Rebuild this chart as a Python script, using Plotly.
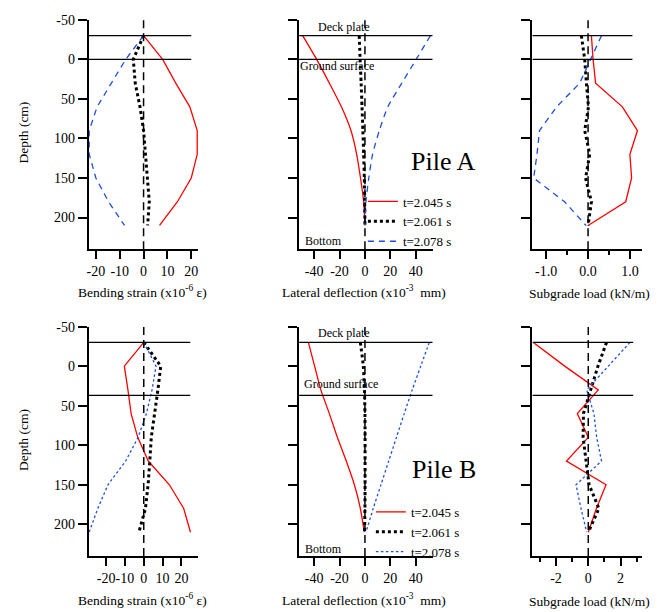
import plotly.graph_objects as go

W, H = 662, 612

# ---------------- data ----------------
depth = [-30, 0, 30, 60, 90, 120, 150, 180, 210]
series_names = ["t=2.045 s", "t=2.061 s", "t=2.078 s"]

# Pile A
strain_A_2045 = [0, 8, 13.5, 19.4, 22.5, 22.5, 20, 14.2, 6.7]
strain_A_2061 = [0, -4.3, -3.5, -1.5, 0, 0.8, 1.8, 2.4, 1.7]
strain_A_2078 = [0, -7.5, -13.5, -19.5, -22.8, -22.8, -20, -14.7, -8]

defl_A_2045 = [-49, -38, -28, -18.5, -11, -6.5, -3.5, -1, 0]
defl_A_2061 = [-4.5, -3.8, -3, -2.3, -1.6, -1, -0.5, -0.2, 0]
defl_A_2078 = [51.5, 40.3, 29, 18, 11.3, 6, 3, 0.8, 0]

load_A_2045 = [0.08, 0.12, 0.18, 0.82, 1.18, 1.0, 1.04, 0.9, 0]
load_A_2061 = [-0.16, -0.08, -0.04, 0.01, -0.08, 0.04, -0.06, 0.08, 0]
load_A_2078 = [0.32, 0.06, -0.2, -0.75, -1.16, -1.22, -1.3, -0.56, -0.05]

# Pile B
strain_B_2045 = [0, -10.3, -8.4, -6.7, -3.2, 2.4, 13.6, 21.2, 24.8]
strain_B_2061 = [0, 9, 7.5, 5.8, 4, 3.2, 2.3, 0.9, -2.6]
strain_B_2078 = [0, 6.5, 4.4, 1.4, -3, -9.6, -19, -24.4, -29]

defl_B_2045 = [-44.5, -39.6, -34.7, -28, -21.7, -14.7, -8.3, -3.6, -0.5]
defl_B_2061 = [-3.6, -1.3, -0.4, 0, 0.1, 0.1, 0.1, 0, -0.3]
defl_B_2078 = [50.6, 43.9, 37.2, 30.9, 24.8, 18.7, 12.6, 6.5, 0.8]

load_B_2045 = [-3.4, -1.46, 0.62, -0.68, 0.0, -1.35, 1.1, 0.5, 0.0]
load_B_2061 = [1.13, 0.6, 0.15, -0.3, -0.32, -0.12, 0.05, 0.66, 0]
load_B_2078 = [2.58, 1.24, -0.1, 0.35, 0.52, 0.82, -0.76, -0.45, -0.1]

deck_depth = -30
ground_depth_A = 0
ground_depth_B = 37

depth_ticks = [-50, 0, 50, 100, 150, 200]
depth_ticktext = ["-50", "0", "50", "100", "150", "200"]

strain_A_ticks = [-20, -10, 0, 10, 20]
strain_A_ticktext = ["-20", "-10", "0", "10", "20"]
strain_B_ticks = [-20, -10, 0, 10, 20]
strain_B_ticktext = ["-20", "-10", "0", "10", "20"]
defl_ticks = [-40, -20, 0, 20, 40]
defl_ticktext = ["-40", "-20", "0", "20", "40"]
load_A_ticks = [-1, 0, 1]
load_A_ticktext = ["-1.0", "0.0", "1.0"]
load_A_minor = [-0.5, 0.5]
load_B_ticks = [-2, 0, 2]
load_B_ticktext = ["-2", "0", "2"]
load_B_minor = [-3, -1, 1, 3]

# ---------------- layout geometry ----------------
col_px = [(87, 197), (298, 432), (532, 642)]
row_px = [(13, 245), (323.3, 555.3)]
y_range = [240, -50]
x_ranges = [[-23, 23], [-51.8, 53.3], [-1.33, 1.29],
            [-29.2, 29], [-51.8, 53.3], [-3.46, 3.33]]
# how far the deck/ground reference lines run to the right (data units)
ref_line_end = [20, 53.3, 1.06, 24.7, 53.3, 2.78]

FONT = "Liberation Serif"
RED = "#ff0000"
BLACK = "#000000"
BLUE = "#1e4fdc"

panels = [
    (strain_A_2045, strain_A_2061, strain_A_2078),
    (defl_A_2045, defl_A_2061, defl_A_2078),
    (load_A_2045, load_A_2061, load_A_2078),
    (strain_B_2045, strain_B_2061, strain_B_2078),
    (defl_B_2045, defl_B_2061, defl_B_2078),
    (load_B_2045, load_B_2061, load_B_2078),
]

fig = go.Figure()


def axname(i, kind):
    return kind if i == 0 else f"{kind}{i + 1}"


for i, (s1, s2, s3) in enumerate(panels):
    r, c = divmod(i, 3)
    xa, ya = axname(i, "x"), axname(i, "y")
    shape = "spline" if c == 1 else "linear"
    blue_dash = "6px,5px" if r == 0 else "2.5px,2.5px"
    show = (c == 1)
    leg = "legend" if r == 0 else "legend2"
    styles = [
        dict(color=RED, width=1.3, dash="solid"),
        dict(color=BLACK, width=3, dash="3px,3px"),
        dict(color=BLUE, width=1.3, dash=blue_dash),
    ]
    for name, vals, st in zip(series_names, (s1, s2, s3), styles):
        fig.add_trace(go.Scatter(
            x=vals, y=depth, mode="lines", name=name,
            line=dict(color=st["color"], width=st["width"], dash=st["dash"],
                      shape=shape, smoothing=0.6),
            xaxis=xa, yaxis=ya, showlegend=show, legend=leg,
        ))

    # zero reference (dashed vertical) line
    fig.add_shape(type="line", xref=xa, yref=f"{ya} domain",
                  x0=0, x1=0, y0=0, y1=1,
                  line=dict(color="black", width=1.5, dash="8px,5px"))
    # deck plate and ground surface lines
    ground = ground_depth_A if r == 0 else ground_depth_B
    for dval in (deck_depth, ground):
        fig.add_shape(type="line", xref=xa, yref=ya,
                      x0=x_ranges[i][0], x1=ref_line_end[i], y0=dval, y1=dval,
                      line=dict(color="black", width=1.3))

x_ticks = [
    (strain_A_ticks, strain_A_ticktext, None),
    (defl_ticks, defl_ticktext, None),
    (load_A_ticks, load_A_ticktext, load_A_minor),
    (strain_B_ticks, strain_B_ticktext, None),
    (defl_ticks, defl_ticktext, None),
    (load_B_ticks, load_B_ticktext, load_B_minor),
]

layout = dict(
    width=W, height=H,
    margin=dict(l=0, r=0, t=0, b=0),
    paper_bgcolor="white", plot_bgcolor="white",
    font=dict(family=FONT, size=14, color="black"),
    legend=dict(x=362 / W, y=1 - 217 / H, xanchor="left", yanchor="middle",
                bgcolor="rgba(0,0,0,0)", font=dict(family=FONT, size=13),
                itemwidth=30, tracegroupgap=0),
    legend2=dict(x=370 / W, y=1 - 531 / H, xanchor="left", yanchor="middle",
                 bgcolor="rgba(0,0,0,0)", font=dict(family=FONT, size=13),
                 itemwidth=30, tracegroupgap=0),
)

for i in range(6):
    r, c = divmod(i, 3)
    xkey = "xaxis" if i == 0 else f"xaxis{i + 1}"
    ykey = "yaxis" if i == 0 else f"yaxis{i + 1}"
    tv, tt, minor = x_ticks[i]
    xa = dict(
        domain=[col_px[c][0] / W, col_px[c][1] / W],
        range=x_ranges[i], anchor=axname(i, "y"),
        showgrid=False, zeroline=False,
        showline=True, linecolor="black", linewidth=2,
        ticks="outside", ticklen=8, tickwidth=1.5, tickcolor="black",
        tickmode="array", tickvals=tv, ticktext=tt, tickangle=0,
        tickfont=dict(family=FONT, size=14),
    )
    if minor:
        xa["minor"] = dict(tickmode="array", tickvals=minor, ticks="outside",
                           ticklen=4, tickwidth=1.5, tickcolor="black",
                           showgrid=False)
    ya = dict(
        domain=[1 - row_px[r][1] / H, 1 - row_px[r][0] / H],
        range=y_range, anchor=axname(i, "x"),
        showgrid=False, zeroline=False,
        showline=True, linecolor="black", linewidth=2,
        ticks="outside", ticklen=9, tickwidth=1.5, tickcolor="black",
        tickmode="array", tickvals=depth_ticks,
        showticklabels=(c == 0),
        tickfont=dict(family=FONT, size=14),
    )
    if c == 0:
        ya["ticktext"] = depth_ticktext
    layout[xkey] = xa
    layout[ykey] = ya

fig.update_layout(**layout)

# ---------------- text ----------------
x_titles = ["Bending strain (x10<sup>-6</sup> ε)",
            "Lateral deflection (x10<sup>-3</sup>\u00a0\u00a0mm)",
            "Subgrade load (kN/m)"]
x_title_cx = [141, 363, 589]
x_title_cy = [288, 599]
x_title_shift = [-2, -2, 0]   # superscripted titles sit a little higher
y_title_cy = [127, 438]

ann = []
for r in range(2):
    for c in range(3):
        ann.append(dict(text=x_titles[c], xref="paper", yref="paper",
                        x=x_title_cx[c] / W, y=1 - (x_title_cy[r] + x_title_shift[c] + 2) / H,
                        xanchor="center", yanchor="middle", showarrow=False,
                        font=dict(family=FONT, size=13.5)))
    ann.append(dict(text="Depth (cm)", xref="paper", yref="paper",
                    x=22 / W, y=1 - y_title_cy[r] / H, textangle=-90,
                    xanchor="center", yanchor="middle", showarrow=False,
                    font=dict(family=FONT, size=13.5)))

ann.append(dict(text="Pile A", xref="paper", yref="paper", x=443 / W, y=1 - 156 / H,
                xanchor="center", yanchor="middle", showarrow=False,
                font=dict(family=FONT, size=26)))
ann.append(dict(text="Pile B", xref="paper", yref="paper", x=443 / W, y=1 - 468 / H,
                xanchor="center", yanchor="middle", showarrow=False,
                font=dict(family=FONT, size=26)))

small = dict(family=FONT, size=12)
# row 1 (Pile A) labels
ann.append(dict(text="Deck plate", xref="paper", yref="y2", x=343 / W, y=deck_depth,
                xanchor="center", yanchor="bottom", showarrow=False, font=small))
ann.append(dict(text="Ground surface", xref="paper", yref="y2", x=336 / W, y=ground_depth_A,
                xanchor="center", yanchor="top", yshift=2.5, showarrow=False, font=small))
ann.append(dict(text="Bottom", xref="paper", yref="y2", x=322 / W, y=230,
                xanchor="center", yanchor="middle", showarrow=False, font=small))
# row 2 (Pile B) labels
ann.append(dict(text="Deck plate", xref="paper", yref="y5", x=343 / W, y=deck_depth,
                xanchor="center", yanchor="bottom", showarrow=False, font=small))
ann.append(dict(text="Ground surface", xref="paper", yref="y5", x=340 / W, y=ground_depth_B,
                xanchor="center", yanchor="bottom", yshift=2.4, showarrow=False, font=small))
ann.append(dict(text="Bottom", xref="paper", yref="y5", x=322 / W, y=231,
                xanchor="center", yanchor="middle", showarrow=False, font=small))

fig.update_layout(annotations=ann)

# remove the browser's default 8px body margin so the figure sits at the page origin
fig.write_html("out.html",
               config={"displayModeBar": False},
               post_script="document.body.style.margin='0px';document.body.style.padding='0px';")
